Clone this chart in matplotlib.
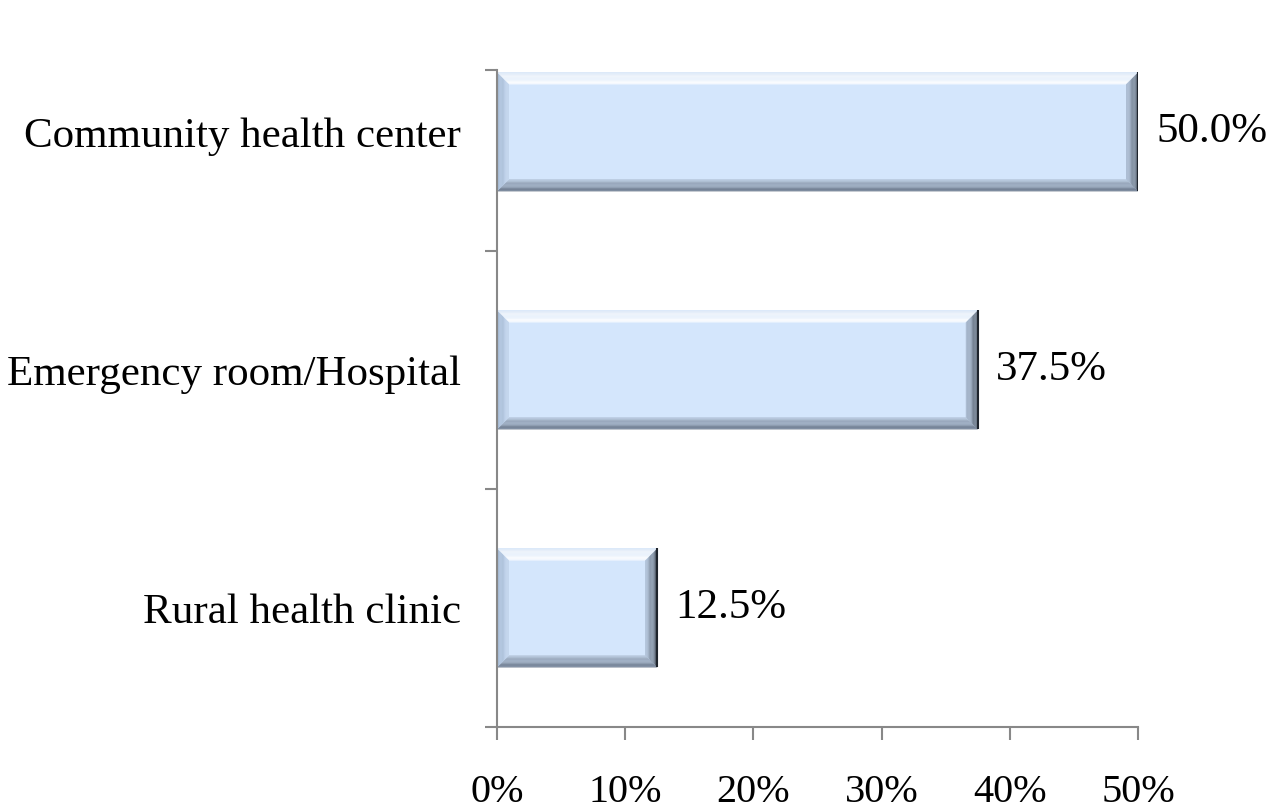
import matplotlib.pyplot as plt
import numpy as np
from matplotlib.patches import Polygon
from matplotlib.colors import to_rgb

categories = ['Rural health clinic', 'Emergency room/Hospital', 'Community health center']
values = [0.125, 0.375, 0.50]
value_labels = ['12.5%', '37.5%', '50.0%']
xticks = [0, 0.1, 0.2, 0.3, 0.4, 0.5]
xtick_labels = ['0%', '10%', '20%', '30%', '40%', '50%']

plt.rcParams['font.family'] = ['Liberation Serif', 'DejaVu Serif']

fig = plt.figure(figsize=(12.72, 8.11), dpi=100)
ax = fig.add_axes([0.3907, 0.1036, 0.504, 0.8101])

face = '#D4E6FC'
y = np.arange(len(categories))
bars = ax.barh(y, values, height=0.5, color=face, edgecolor='none', zorder=2)

ax.set_xlim(0, 0.5)
ax.set_ylim(-0.5, 2.26)


def mix(c1, c2, t):
    a, b = np.array(to_rgb(c1)), np.array(to_rgb(c2))
    return tuple(a + (b - a) * t)


# fake the bevel look of the original bars (outer colour, inner colour)
sides = {
    'top': ('#DCE7F5', '#FBFDFF'),
    'bottom': ('#6A778A', '#B3C3D8'),
    'left': ('#9CB1CC', '#C6D8EF'),
    'right': ('#242A33', '#AFC0D6'),
}


def bevel(ax, bar, w=12, n=10):
    inv = ax.transData.inverted()
    x0, y0 = bar.get_x(), bar.get_y()
    x1, y1 = x0 + bar.get_width(), y0 + bar.get_height()
    (px0, py0) = ax.transData.transform((x0, y0))
    (px1, py1) = ax.transData.transform((x1, y1))
    for k in range(n):
        a = w * k / n
        b = w * (k + 1) / n
        t = (k + 0.5) / n
        quads = {
            'top': [(px0 + a, py1 - a), (px1 - a, py1 - a), (px1 - b, py1 - b), (px0 + b, py1 - b)],
            'bottom': [(px0 + a, py0 + a), (px1 - a, py0 + a), (px1 - b, py0 + b), (px0 + b, py0 + b)],
            'left': [(px0 + a, py0 + a), (px0 + a, py1 - a), (px0 + b, py1 - b), (px0 + b, py0 + b)],
            'right': [(px1 - a, py0 + a), (px1 - a, py1 - a), (px1 - b, py1 - b), (px1 - b, py0 + b)],
        }
        for side, pts in quads.items():
            c0, c1 = sides[side]
            tt = t ** 0.5 if side in ('right', 'top') else t
            ax.add_patch(Polygon(inv.transform(pts), closed=True,
                                 facecolor=mix(c0, c1, tt), edgecolor='none', zorder=3))
    ax.plot([x1, x1], [y0, y1], color='#1E242C', lw=1.5, zorder=4, solid_capstyle='butt')


for bar in bars:
    bevel(ax, bar)

for yi, v, lab in zip(y, values, value_labels):
    ax.annotate(lab, (v, yi), xytext=(13, 0), textcoords='offset points',
                va='center', ha='left', fontsize=31)

ax.set_yticks(y)
ax.set_yticklabels(categories, fontsize=31)
ax.tick_params(axis='y', which='major', length=0, pad=26)
ax.set_yticks([-0.5, 0.5, 1.5, 2.26], minor=True)
ax.tick_params(axis='y', which='minor', length=9, width=1.5, color='#888888')

ax.set_xticks(xticks)
ax.set_xticklabels(xtick_labels, fontsize=29)
ax.tick_params(axis='x', length=9, width=1.5, color='#888888', pad=25)

for s in ['top', 'right']:
    ax.spines[s].set_visible(False)
for s in ['left', 'bottom']:
    ax.spines[s].set_color('#888888')
    ax.spines[s].set_linewidth(1.5)
    ax.spines[s].set_zorder(5)

plt.savefig('out.png', dpi=100)
